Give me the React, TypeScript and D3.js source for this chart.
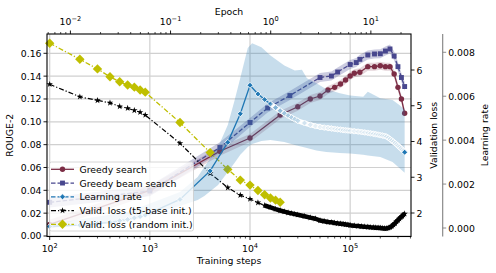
import * as d3 from "d3";

// training steps at which validation loss and learning rate were logged
const lossSteps = [
  100, 200, 300, 400, 500, 600, 700, 800, 900, 2000, 4000, 6000, 8000,
  10000, 12000, 14000, 16000, 18000, 20000, 22000, 24000, 26000, 28000, 30000,
  35000, 40000, 45000, 50000, 55000, 60000, 65000, 70000, 75000, 80000, 85000, 90000, 95000, 100000,
  110000, 120000, 130000, 140000, 150000, 160000, 170000, 180000, 190000, 200000, 210000, 220000,
  230000, 240000, 250000, 260000, 270000, 280000, 290000, 300000, 310000, 320000, 330000, 340000, 350000,
];
const t5Loss = [
  5.6, 5.25, 5.15, 5.08, 4.98, 4.93, 4.87, 4.82, 4.74, 3.95, 3.11, 2.71, 2.5,
  2.39, 2.29, 2.21, 2.16, 2.11, 2.07, 2.04, 2.01, 1.99, 1.97, 1.95,
  1.91, 1.87, 1.84, 1.79, 1.77, 1.75, 1.74, 1.72, 1.71, 1.7, 1.69, 1.68, 1.67, 1.66,
  1.645, 1.635, 1.625, 1.615, 1.61, 1.6, 1.595, 1.59, 1.585, 1.58, 1.575, 1.57,
  1.57, 1.58, 1.6, 1.63, 1.67, 1.71, 1.76, 1.8, 1.84, 1.88, 1.91, 1.95, 1.98,
];
// random init run stopped early: first 19 logged steps
const randomLoss = [
  6.75, 6.3, 6.03, 5.81, 5.67, 5.58, 5.52, 5.44, 5.38, 4.53, 3.69, 3.22, 2.92,
  2.78, 2.63, 2.51, 2.42, 2.36, 2.3,
];
const learningRate = [
  0.00007, 0.00013, 0.0002, 0.00026, 0.00033, 0.00039, 0.00046, 0.00052, 0.00059, 0.0013, 0.0026, 0.0039, 0.0052,
  0.0065, 0.0061, 0.00585, 0.00565, 0.00548, 0.00534, 0.00522, 0.00512, 0.00503, 0.00495, 0.00488,
  0.00478, 0.0047, 0.00464, 0.0046, 0.00457, 0.00455, 0.00453, 0.00451, 0.00449, 0.00448, 0.00446, 0.00445, 0.00444, 0.00443,
  0.00441, 0.00439, 0.00437, 0.00435, 0.00433, 0.00431, 0.00429, 0.00427, 0.00425, 0.00423, 0.00421, 0.00419,
  0.00416, 0.00411, 0.00405, 0.00399, 0.00393, 0.00387, 0.00381, 0.00375, 0.00369, 0.00363, 0.00357, 0.00351, 0.00345,
];
const LOG_EVERY = 2000; // logging interval of the runs after warm-up

// spread of the learning rate (shaded region)
const bandSteps = [
  100, 600, 2000, 3000, 3500, 4800, 6000, 7000, 8000, 9500, 10500, 13000, 16000, 22000, 28000,
  33000, 37000, 46000, 58000, 79000, 100000, 135000, 150000, 200000, 265000, 310000, 350000,
];
const bandUpper = [
  0.00018, 0.00073, 0.00164, 0.00232, 0.00278, 0.00369, 0.00469, 0.00579, 0.00683, 0.0082, 0.00841, 0.00823, 0.00785, 0.0074, 0.00717,
  0.0072, 0.00682, 0.00659, 0.00632, 0.00614, 0.00603, 0.00598, 0.0062, 0.00591, 0.00583, 0.0056, 0.00538,
];
const bandLower = [
  0.0, 0.00027, 0.001, 0.00128, 0.00146, 0.00196, 0.00255, 0.00296, 0.00333, 0.00369, 0.00383, 0.00396, 0.00401, 0.00392, 0.00378,
  0.0037, 0.00364, 0.00353, 0.00346, 0.00342, 0.00339, 0.00333, 0.0033, 0.00323, 0.00301, 0.00273, 0.00251,
];

const greedySteps = [
  100, 1000, 5000, 10000, 20000, 30000, 40000, 50000, 60000, 70000, 80000, 90000, 100000,
  110000, 125000, 150000, 175000, 200000, 225000, 250000, 275000, 300000, 325000, 350000,
];
const greedyRouge = [
  0.0102, 0.04, 0.0742, 0.0858, 0.106, 0.1132, 0.12, 0.1226, 0.1279, 0.1302, 0.1331, 0.1366, 0.1401,
  0.1425, 0.1434, 0.1483, 0.1483, 0.1491, 0.1483, 0.1483, 0.1419, 0.1302, 0.12, 0.1075,
];
const greedyStd = [
  0.004, 0.004, 0.004, 0.0035, 0.0035, 0.0035, 0.0035, 0.0035, 0.0035, 0.0035, 0.0035, 0.0035, 0.0035,
  0.0035, 0.0035, 0.0035, 0.0035, 0.0035, 0.0035, 0.0035, 0.0035, 0.0035, 0.0035, 0.0035,
];
const beamSteps = [
  100, 1000, 5000, 10000, 15000, 25000, 50000, 65000, 75000, 100000, 115000, 125000,
  150000, 175000, 200000, 225000, 250000, 275000, 300000, 325000, 350000,
];
const beamRouge = [
  0.0295, 0.0394, 0.0775, 0.0994, 0.1121, 0.123, 0.1388, 0.1401, 0.1436, 0.1502, 0.1519, 0.1547,
  0.1585, 0.1594, 0.1596, 0.162, 0.1638, 0.1576, 0.1483, 0.1388, 0.1309,
];
const beamStd = [
  0.0045, 0.0045, 0.0045, 0.004, 0.004, 0.004, 0.004, 0.004, 0.004, 0.004, 0.004, 0.004,
  0.004, 0.004, 0.004, 0.004, 0.004, 0.004, 0.004, 0.004, 0.004,
];

const stepTickExps = [2, 3, 4, 5];
const epochTickExps = [-2, -1, 0, 1];
const rougeTicks = [0, 0.02, 0.04, 0.06, 0.08, 0.1, 0.12, 0.14, 0.16];
const lossTicks = [2, 3, 4, 5, 6];
const lrTicks = [0, 0.002, 0.004, 0.006, 0.008];

const legendLabels = [
  "Greedy search",
  "Greedy beam search",
  "Learning rate",
  "Valid. loss (t5-base init.)",
  "Valid. loss (random init.)",
];

const STEPS_PER_EPOCH = 16100;
const C_GREEDY = "#7c2d45";
const C_BEAM = "#48478e";
const C_LR = "#1f77b4";
const C_RAND = "#bfbf00";
const FONT = "DejaVu Sans, sans-serif";
const FS = 9.3;

function minorTicks(lo: number, hi: number) {
  const out: number[] = [];
  for (let e = Math.floor(Math.log10(lo)); e <= Math.ceil(Math.log10(hi)); e++) {
    for (let m = 2; m <= 9; m++) {
      const v = m * Math.pow(10, e);
      if (v >= lo && v <= hi) out.push(v);
    }
  }
  return out;
}

function Pow10({ x, y, exp }: { x: number; y: number; exp: number }) {
  const e = exp < 0 ? `\u2212${-exp}` : `${exp}`;
  return (
    <text x={x} y={y} textAnchor="middle" fontSize={FS} fontFamily={FONT} fill="#000">
      10<tspan dy={-4} fontSize={6.6}>{e}</tspan>
    </text>
  );
}

const starPath = d3.symbol(d3.symbolStar, 13)() ?? "";
const squarePath = d3.symbol(d3.symbolSquare, 24)() ?? "";
const smallDiamond = d3.symbol(d3.symbolSquare, 18)() ?? "";
const bigDiamond = d3.symbol(d3.symbolSquare, 44)() ?? "";

function Marker({ kind, cx, cy, fade = 1 }: { kind: string; cx: number; cy: number; fade?: number }) {
  if (kind === "circle") return <circle cx={cx} cy={cy} r={2.7} fill={C_GREEDY} />;
  if (kind === "square") return <path d={squarePath} transform={`translate(${cx},${cy})`} fill={C_BEAM} />;
  if (kind === "lr")
    return (
      <path
        d={smallDiamond}
        transform={`translate(${cx},${cy}) rotate(45)`}
        fill={C_LR}
        fillOpacity={fade}
        stroke="#fff"
        strokeWidth={0.8}
      />
    );
  if (kind === "star") return <path d={starPath} transform={`translate(${cx},${cy})`} fill="#000" />;
  return <path d={bigDiamond} transform={`translate(${cx},${cy}) rotate(45)`} fill={C_RAND} />;
}

export default function App() {
  const W = 496;
  const H = 273;
  const m = { left: 47, right: 411, top: 34, bottom: 236.5 };
  const lrAxisX = 442.7;

  const x = d3.scaleLog().domain([94, 405000]).range([m.left, m.right]);
  const xEpoch = d3
    .scaleLog()
    .domain([94 / STEPS_PER_EPOCH, 405000 / STEPS_PER_EPOCH])
    .range([m.left, m.right]);
  const yRouge = d3.scaleLinear().domain([-0.00044, 0.1769]).range([m.bottom, m.top]);
  const yLoss = d3.scaleLinear().domain([1.343, 7.007]).range([m.bottom, m.top]);
  const yLr = d3.scaleLinear().domain([-0.000387, 0.008833]).range([m.bottom, m.top]);

  const [xMin, xMax] = x.domain();
  const [eMin, eMax] = xEpoch.domain();

  type P = { s: number; v: number; lo?: number; hi?: number };
  const greedy: P[] = greedySteps.map((s, i) => ({ s, v: greedyRouge[i], lo: greedyRouge[i] - greedyStd[i], hi: greedyRouge[i] + greedyStd[i] }));
  const beam: P[] = beamSteps.map((s, i) => ({ s, v: beamRouge[i], lo: beamRouge[i] - beamStd[i], hi: beamRouge[i] + beamStd[i] }));
  const t5: P[] = lossSteps.map((s, i) => ({ s, v: t5Loss[i] }));
  const rnd: P[] = randomLoss.map((v, i) => ({ s: lossSteps[i], v }));
  const lr: P[] = lossSteps.map((s, i) => ({ s, v: learningRate[i] }));
  const band: P[] = bandSteps.map((s, i) => ({ s, v: 0, lo: bandLower[i], hi: bandUpper[i] }));

  const lineR = d3.line<P>().x((d) => x(d.s)).y((d) => yRouge(d.v));
  const areaR = d3.area<P>().x((d) => x(d.s)).y0((d) => yRouge(d.lo!)).y1((d) => yRouge(d.hi!));
  const lineL = d3.line<P>().x((d) => x(d.s)).y((d) => yLoss(d.v));
  const lineLr = d3.line<P>().x((d) => x(d.s)).y((d) => yLr(d.v));
  const areaLr = d3.area<P>().x((d) => x(d.s)).y0((d) => yLr(d.lo!)).y1((d) => yLr(d.hi!));

  // on screen, markers logged every LOG_EVERY steps pile up once they are closer than a few px
  const pxGap = (s: number) => x(s + LOG_EVERY) - x(s);
  const lrFade = (s: number, i: number) =>
    i === lr.length - 1 || s < 10000 ? 1 : Math.max(0.1, Math.min(1, (pxGap(s) - 1.2) / 6));
  const lrDense = lr.filter((d) => d.s >= 16000);
  const lrSparse = lr.filter((d) => d.s <= 24000);
  const t5Dense = t5.filter((d) => d.s >= 14000);

  const gridColor = "#d0d0d0";
  const legendRows = [
    { kind: "circle", color: C_GREEDY, dash: "none" },
    { kind: "square", color: C_BEAM, dash: "4.5 2" },
    { kind: "lr", color: C_LR, dash: "4.5 2" },
    { kind: "star", color: "#000", dash: "5 2 1.2 2" },
    { kind: "diamond", color: C_RAND, dash: "5 2 1.2 2" },
  ];

  return (
    <svg
      width={W}
      height={H}
      viewBox={`0 0 ${W} ${H}`}
      style={{ position: "absolute", left: 0, top: 0, background: "#fff" }}
      fontFamily={FONT}
    >
      {/* grid */}
      {rougeTicks.map((t) => (
        <line key={`gy${t}`} x1={m.left} x2={m.right} y1={yRouge(t)} y2={yRouge(t)} stroke={gridColor} strokeWidth={1.2} />
      ))}
      {stepTickExps.map((e) => (
        <line key={`gx${e}`} x1={x(10 ** e)} x2={x(10 ** e)} y1={m.top} y2={m.bottom} stroke={gridColor} strokeWidth={1.2} />
      ))}

      {/* ROUGE-2 series */}
      <path d={areaR(greedy) ?? ""} fill={C_GREEDY} opacity={0.2} />
      <path d={areaR(beam) ?? ""} fill={C_BEAM} opacity={0.28} />
      <path d={lineR(greedy) ?? ""} fill="none" stroke={C_GREEDY} strokeWidth={1.3} />
      {greedy.map((d) => (
        <Marker key={`g${d.s}`} kind="circle" cx={x(d.s)} cy={yRouge(d.v)} />
      ))}
      <path d={lineR(beam) ?? ""} fill="none" stroke={C_BEAM} strokeWidth={1.3} strokeDasharray="4.5 2" />
      {beam.map((d) => (
        <Marker key={`b${d.s}`} kind="square" cx={x(d.s)} cy={yRouge(d.v)} />
      ))}

      {/* validation losses */}
      <path d={lineL(t5) ?? ""} fill="none" stroke="#000" strokeWidth={1.2} strokeDasharray="5 2 1.2 2" />
      <path d={lineL(t5Dense) ?? ""} fill="none" stroke="#000" strokeWidth={4.5} strokeLinejoin="round" />
      {t5.map((d) => (
        <Marker key={`t${d.s}`} kind="star" cx={x(d.s)} cy={yLoss(d.v)} />
      ))}
      <path d={lineL(rnd) ?? ""} fill="none" stroke={C_RAND} strokeWidth={1.3} strokeDasharray="5 2 1.2 2" />
      {rnd.map((d) => (
        <Marker key={`r${d.s}`} kind="diamond" cx={x(d.s)} cy={yLoss(d.v)} />
      ))}

      {/* learning rate */}
      <path d={areaLr(band) ?? ""} fill={C_LR} opacity={0.25} />
      <path d={lineLr(lrSparse) ?? ""} fill="none" stroke={C_LR} strokeWidth={1.3} />
      <path d={lineLr(lrDense) ?? ""} fill="none" stroke="#fff" strokeWidth={5} strokeLinejoin="round" />
      {lr.map((d, i) => (
        <Marker key={`l${d.s}`} kind="lr" cx={x(d.s)} cy={yLr(d.v)} fade={lrFade(d.s, i)} />
      ))}

      {/* frame */}
      <rect x={m.left} y={m.top} width={m.right - m.left} height={m.bottom - m.top} fill="none" stroke="#000" strokeWidth={1.1} />

      {/* bottom axis */}
      {stepTickExps.map((e) => (
        <g key={`bx${e}`}>
          <line x1={x(10 ** e)} x2={x(10 ** e)} y1={m.bottom} y2={m.bottom + 3.5} stroke="#000" strokeWidth={0.9} />
          <Pow10 x={x(10 ** e)} y={251.5} exp={e} />
        </g>
      ))}
      {minorTicks(xMin, xMax).map((v) => (
        <line key={`bm${v}`} x1={x(v)} x2={x(v)} y1={m.bottom} y2={m.bottom + 2} stroke="#000" strokeWidth={0.7} />
      ))}
      <text x={(m.left + m.right) / 2} y={264} textAnchor="middle" fontSize={FS}>
        Training steps
      </text>

      {/* top axis (epochs) */}
      {epochTickExps.map((e) => (
        <g key={`tx${e}`}>
          <line x1={xEpoch(10 ** e)} x2={xEpoch(10 ** e)} y1={m.top} y2={m.top - 3.5} stroke="#000" strokeWidth={0.9} />
          <Pow10 x={xEpoch(10 ** e)} y={24.5} exp={e} />
        </g>
      ))}
      {minorTicks(eMin, eMax).map((v) => (
        <line key={`tm${v}`} x1={xEpoch(v)} x2={xEpoch(v)} y1={m.top} y2={m.top - 2} stroke="#000" strokeWidth={0.7} />
      ))}
      <text x={(m.left + m.right) / 2} y={14.5} textAnchor="middle" fontSize={FS}>
        Epoch
      </text>

      {/* left axis */}
      {rougeTicks.map((t) => (
        <g key={`ly${t}`}>
          <line x1={m.left - 3.5} x2={m.left} y1={yRouge(t)} y2={yRouge(t)} stroke="#000" strokeWidth={0.9} />
          <text x={m.left - 5.5} y={yRouge(t)} textAnchor="end" dominantBaseline="central" fontSize={FS}>
            {t.toFixed(2)}
          </text>
        </g>
      ))}
      <text transform={`translate(13,${(m.top + m.bottom) / 2}) rotate(-90)`} textAnchor="middle" fontSize={FS}>
        ROUGE-2
      </text>

      {/* right axis: validation loss */}
      {lossTicks.map((t) => (
        <g key={`ry${t}`}>
          <line x1={m.right} x2={m.right + 3.5} y1={yLoss(t)} y2={yLoss(t)} stroke="#000" strokeWidth={0.9} />
          <text x={m.right + 5.5} y={yLoss(t)} dominantBaseline="central" fontSize={FS}>
            {t}
          </text>
        </g>
      ))}
      <text transform={`translate(437,${(m.top + m.bottom) / 2}) rotate(-90)`} textAnchor="middle" fontSize={FS}>
        Validation loss
      </text>

      {/* offset right axis: learning rate */}
      <line x1={lrAxisX} x2={lrAxisX} y1={m.top} y2={m.bottom} stroke="#808080" strokeWidth={1.1} />
      {lrTicks.map((t) => (
        <g key={`lr${t}`}>
          <line x1={lrAxisX} x2={lrAxisX + 3.5} y1={yLr(t)} y2={yLr(t)} stroke="#808080" strokeWidth={0.9} />
          <text x={lrAxisX + 5.5} y={yLr(t)} dominantBaseline="central" fontSize={FS}>
            {t.toFixed(3)}
          </text>
        </g>
      ))}
      <text transform={`translate(488,${(m.top + m.bottom) / 2}) rotate(-90)`} textAnchor="middle" fontSize={FS}>
        Learning rate
      </text>

      {/* legend */}
      <g>
        <rect x={49.5} y={162} width={144} height={69} rx={2} fill="#fff" fillOpacity={0.8} stroke="#cccccc" strokeWidth={0.8} />
        {legendRows.map((r, i) => {
          const cy = 169.3 + i * 13.75;
          return (
            <g key={legendLabels[i]}>
              <line x1={51} x2={74} y1={cy} y2={cy} stroke={r.color} strokeWidth={1.3} strokeDasharray={r.dash} />
              <Marker kind={r.kind} cx={62.5} cy={cy} />
              <text x={79.5} y={cy} dominantBaseline="central" fontSize={FS}>
                {legendLabels[i]}
              </text>
            </g>
          );
        })}
      </g>
    </svg>
  );
}
